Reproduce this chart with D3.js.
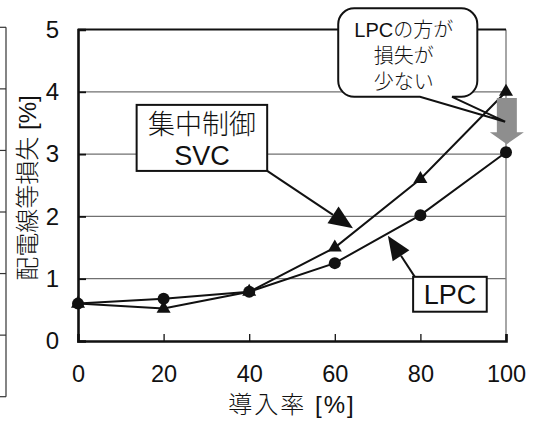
<!DOCTYPE html>
<html>
<head>
<meta charset="utf-8">
<script src="https://cdn.jsdelivr.net/npm/d3@7"></script>
<style>
  html, body { margin: 0; padding: 0; background: #fff; }
  svg { display: block; }
  text { font-family: "Liberation Sans", Arial, "Noto Sans CJK JP", sans-serif; fill: #111; }
  .jp { font-family: "Liberation Sans", "Noto Sans CJK JP", sans-serif; font-weight: 300; }
</style>
</head>
<body>
<svg id="chart" width="539" height="421"></svg>
<script>
// 導入率 [%]
const rates = [0, 20, 40, 60, 80, 100];
// 配電線等損失 [%]
const svcLoss = [0.6, 0.52, 0.79, 1.5, 2.6, 4.0];
const lpcLoss = [0.6, 0.68, 0.79, 1.25, 2.02, 3.03];
const yTicks = [0, 1, 2, 3, 4, 5];
const xTicks = [0, 20, 40, 60, 80, 100];
const xTitle = "導入率 [%]";
const yTitle = "配電線等損失 [%]";
const svcLabel = ["集中制御", "SVC"];
const lpcLabel = ["LPC"];
const noteLines = ["LPCの方が", "損失が", "少ない"];

const svg = d3.select("#chart");
const plot = { left: 78, right: 506, top: 29.5, bottom: 341 };

const x = d3.scaleLinear().domain([0, 100]).range([plot.left, plot.right]);
const y = d3.scaleLinear().domain([0, 5]).range([plot.bottom, plot.top]);

// edge of the neighbouring panel on the left
const edge = svg.append("g").attr("stroke", "#333").attr("stroke-width", 1.2);
edge.append("line").attr("x1", 6).attr("x2", 6).attr("y1", 27.3).attr("y2", 396.7);
d3.range(7).forEach(i => {
  const yy = 27.3 + i * (396.7 - 27.3) / 6;
  edge.append("line").attr("x1", 0).attr("x2", 6).attr("y1", yy).attr("y2", yy);
});

// horizontal grid
svg.append("g").selectAll("line").data(yTicks.filter(d => d > 0 && d < 5)).join("line")
  .attr("x1", plot.left).attr("x2", plot.right)
  .attr("y1", d => y(d)).attr("y2", d => y(d))
  .attr("stroke", "#707070").attr("stroke-width", 1.2);

// right border (grey) and top border (black)
svg.append("line").attr("x1", plot.right).attr("x2", plot.right)
  .attr("y1", plot.top).attr("y2", plot.bottom)
  .attr("stroke", "#808080").attr("stroke-width", 1.4);
svg.append("line").attr("x1", plot.left).attr("x2", plot.right)
  .attr("y1", plot.top).attr("y2", plot.top)
  .attr("stroke", "#111").attr("stroke-width", 2);

// speech bubble body (white fill first, outline drawn later on top)
const bub = { x0: 60.8, x1: 93.3, y0: 5.34, y1: 3.92, tailA: 79.9, tailB: 87.4, tipX: 99.8, tipY: 3.52 };
function bubblePath() {
  const L = x(bub.x0), R = x(bub.x1), T = y(bub.y0), B = y(bub.y1), r = 16;
  const p = d3.path();
  p.moveTo(L + r, T);
  p.lineTo(R - r, T);
  p.arcTo(R, T, R, T + r, r);
  p.lineTo(R, B - r);
  p.arcTo(R, B, R - r, B, r);
  p.lineTo(x(bub.tailB), B);
  p.lineTo(x(bub.tipX), y(bub.tipY));
  p.lineTo(x(bub.tailA), B);
  p.lineTo(L + r, B);
  p.arcTo(L, B, L, B - r, r);
  p.lineTo(L, T + r);
  p.arcTo(L, T, L + r, T, r);
  p.closePath();
  return p.toString();
}
svg.append("path").attr("d", bubblePath()).attr("fill", "#fff").attr("stroke", "none");

// axes
const yAxis = d3.axisLeft(y).tickValues(yTicks).tickSize(-8).tickPadding(19).tickFormat(d3.format("d"));
const gy = svg.append("g").attr("transform", `translate(${plot.left},0)`).call(yAxis);
gy.select(".domain").attr("stroke", "#111").attr("stroke-width", 2.6);
gy.selectAll(".tick line").attr("stroke", "#111").attr("stroke-width", 1.8);
gy.selectAll(".tick text").attr("font-size", 24).attr("fill", "#111")
  .style("font-family", "'Liberation Sans', Arial, sans-serif");

const xAxis = d3.axisBottom(x).tickValues(xTicks).tickSize(-7).tickPadding(24).tickFormat(d3.format("d"));
const gx = svg.append("g").attr("transform", `translate(0,${plot.bottom})`).call(xAxis);
gx.select(".domain").attr("stroke", "#111").attr("stroke-width", 2.6);
gx.selectAll(".tick line").attr("stroke", "#111").attr("stroke-width", 1.3);
gx.selectAll(".tick text").attr("font-size", 23.5).attr("fill", "#111")
  .style("font-family", "'Liberation Sans', Arial, sans-serif");
gx.selectAll(".tick").filter(d => d === 0).select("line").remove();
gy.selectAll(".tick").filter(d => d === 0 || d === 5).select("line").remove();

// axis titles
svg.append("text").attr("class", "jp")
  .attr("x", (plot.left + plot.right) / 2).attr("y", 413)
  .attr("text-anchor", "middle").attr("font-size", 24).attr("letter-spacing", 2)
  .text(xTitle);
svg.append("text").attr("class", "jp")
  .attr("transform", `translate(36,188) rotate(-90)`)
  .attr("text-anchor", "middle").attr("font-size", 24).attr("letter-spacing", 0)
  .text(yTitle);

// series lines
const line = d3.line().x(d => x(d[0])).y(d => y(d[1]));
const svcPts = rates.map((r, i) => [r, svcLoss[i]]);
const lpcPts = rates.map((r, i) => [r, lpcLoss[i]]);
svg.append("path").attr("d", line(svcPts)).attr("fill", "none").attr("stroke", "#111").attr("stroke-width", 2);
svg.append("path").attr("d", line(lpcPts)).attr("fill", "none").attr("stroke", "#111").attr("stroke-width", 2);

// markers
svg.append("g").selectAll("path").data(svcPts).join("path")
  .attr("d", d3.symbol(d3.symbolTriangle, 85))
  .attr("transform", d => `translate(${x(d[0])},${y(d[1])})`)
  .attr("fill", "#111");
svg.append("g").selectAll("circle").data(lpcPts).join("circle")
  .attr("cx", d => x(d[0])).attr("cy", d => y(d[1])).attr("r", 6)
  .attr("fill", "#111");

// grey "down" arrow between the two series at 100 %
const gArrow = { cx: 100.2, top: 3.9, neck: 3.35, tip: 3.16 };
(function () {
  const cx = x(gArrow.cx), sw = 10, hw = 17;
  const p = d3.path();
  p.moveTo(cx - sw, y(gArrow.top));
  p.lineTo(cx + sw, y(gArrow.top));
  p.lineTo(cx + sw, y(gArrow.neck));
  p.lineTo(cx + hw, y(gArrow.neck));
  p.lineTo(cx, y(gArrow.tip));
  p.lineTo(cx - hw, y(gArrow.neck));
  p.lineTo(cx - sw, y(gArrow.neck));
  p.closePath();
  svg.append("path").attr("d", p.toString()).attr("fill", "#8e8e8e");
})();

// bubble outline and text
svg.append("path").attr("d", bubblePath()).attr("fill", "none").attr("stroke", "#111").attr("stroke-width", 2);
const bubCx = x(bub.x0) + (x(bub.x1) - x(bub.x0)) / 2 - 4;
svg.append("g").selectAll("text").data(noteLines).join("text").attr("class", "jp")
  .attr("x", bubCx).attr("y", (d, i) => 37 + i * 26)
  .attr("text-anchor", "middle").attr("font-size", 20)
  .text(d => d);

// callout arrows
function arrow(from, to, headLen, headHalf) {
  const x1 = x(from[0]), y1 = y(from[1]), x2 = x(to[0]), y2 = y(to[1]);
  const dx = x2 - x1, dy = y2 - y1, len = Math.hypot(dx, dy);
  const ux = dx / len, uy = dy / len;
  const bx = x2 - ux * headLen, by = y2 - uy * headLen;
  svg.append("line").attr("x1", x1).attr("y1", y1).attr("x2", bx).attr("y2", by)
    .attr("stroke", "#111").attr("stroke-width", 2);
  svg.append("path")
    .attr("d", `M${x2},${y2}L${bx - uy * headHalf},${by + ux * headHalf}L${bx + uy * headHalf},${by - ux * headHalf}Z`)
    .attr("fill", "#111");
}

// label boxes
function labelBox(b, lines, size, lineGap, firstOffset) {
  const L = x(b.x0), R = x(b.x1), T = y(b.y0), B = y(b.y1);
  svg.append("rect").attr("x", L).attr("y", T).attr("width", R - L).attr("height", B - T)
    .attr("fill", "#fff").attr("stroke", "#111").attr("stroke-width", 2);
  svg.append("g").selectAll("text").data(lines).join("text").attr("class", "jp")
    .attr("x", (L + R) / 2).attr("y", (d, i) => T + firstOffset + i * lineGap)
    .attr("text-anchor", "middle").attr("font-size", size)
    .text(d => d);
}

const svcBox = { x0: 13.7, x1: 44.2, y0: 3.79, y1: 2.73 };
const lpcBox = { x0: 78.3, x1: 95.5, y0: 1.03, y1: 0.47 };
arrow([44.2, 2.73], [64.25, 1.81], 24, 10);
arrow([78.7, 1.03], [72.4, 1.69], 24, 10);
labelBox(svcBox, svcLabel, 27, 31, 29);
labelBox(lpcBox, lpcLabel, 27, 0, 27);
</script>
</body>
</html>
